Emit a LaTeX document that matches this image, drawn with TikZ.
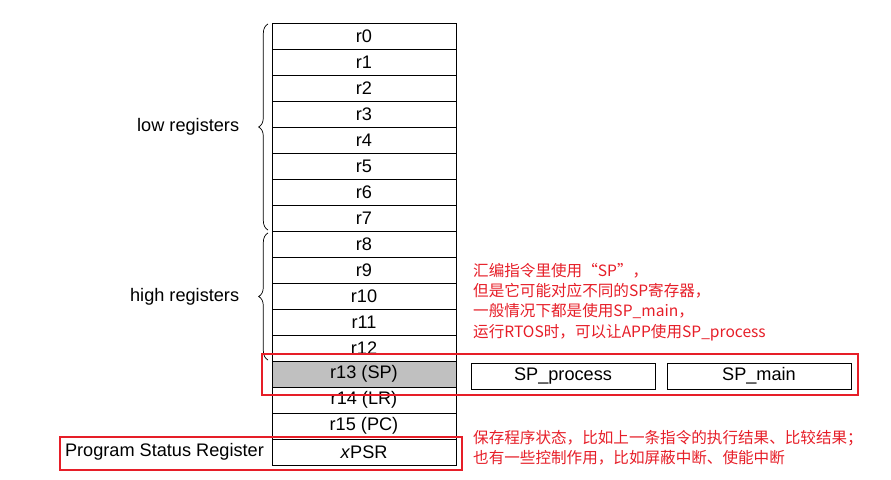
\documentclass[tikz,border=0pt]{standalone}
\usepackage{fontspec}
\setmainfont{Liberation Sans}
\newfontfamily\cjk{Noto Sans CJK SC}
\usetikzlibrary{positioning,decorations.pathreplacing}
\definecolor{regred}{RGB}{230,30,40}
\definecolor{spgray}{RGB}{192,192,192}
\tikzset{
  reg/.style={draw, minimum width=5.52cm, minimum height=0.78cm, inner sep=0pt, font=\fontsize{15.5}{17}\selectfont},
  spbox/.style={reg, line width=0.8pt},
  redframe/.style={draw=regred, line width=1pt},
  note/.style={text=regred, align=left, anchor=north west, font=\cjk\fontsize{13.3}{17.3}\selectfont, inner sep=0pt},
  brace/.style={decorate, decoration={brace, amplitude=8pt}, line width=0.6pt}
}
\begin{document}
\begin{tikzpicture}[x=0.03cm, y=-0.03cm]
  \useasboundingbox (0,0) rectangle (891,480);
  % register column
  \foreach \i in {0,...,12}
    \node[reg] (r\i) at (364,{36+26*\i}) {r\i};
  \node[reg, fill=spgray] (r13) at (364,374) {r13 (SP)};
  \node[reg] (r14) at (364,400) {r14 (LR)};
  \node[reg] (r15) at (364,426) {r15 (PC)};
  \node[reg] (psr) at (364,452) {\textit{x}PSR};
  \node[font=\fontsize{15.5}{17}\selectfont, anchor=east] (psrlabel) at (268,452) {Program Status Register};
  % banked stack pointers
  \node[spbox] (spp) at (563,376) {SP\_process};
  \node[spbox] (spm) at (759,376) {SP\_main};
  % braces
  \coordinate (lowtop) at (268,24);
  \coordinate (lowbot) at (268,230);
  \coordinate (hightop) at (268,233);
  \coordinate (highbot) at (268,360);
  \draw[brace] (lowbot) -- (lowtop) node[midway, left=21pt, font=\fontsize{15.5}{17}\selectfont] (low) {low registers};
  \draw[brace] (highbot) -- (hightop) node[midway, left=21pt, font=\fontsize{15.5}{17}\selectfont] (high) {high registers};
  % red frames
  \draw[redframe] (262,354) rectangle (858,395);
  \draw[redframe] (60,437) rectangle (462,470);
  % notes
  \node[note] (spnote) at (473,263) {汇编指令里使用“SP”，\\但是它可能对应不同的SP寄存器，\\一般情况下都是使用SP\_main，\\运行RTOS时，可以让APP使用SP\_process};
  \node[note] (psrnote) at (473,430) {保存程序状态，比如上一条指令的执行结果、比较结果；\\也有一些控制作用，比如屏蔽中断、使能中断};
\end{tikzpicture}
\end{document}
